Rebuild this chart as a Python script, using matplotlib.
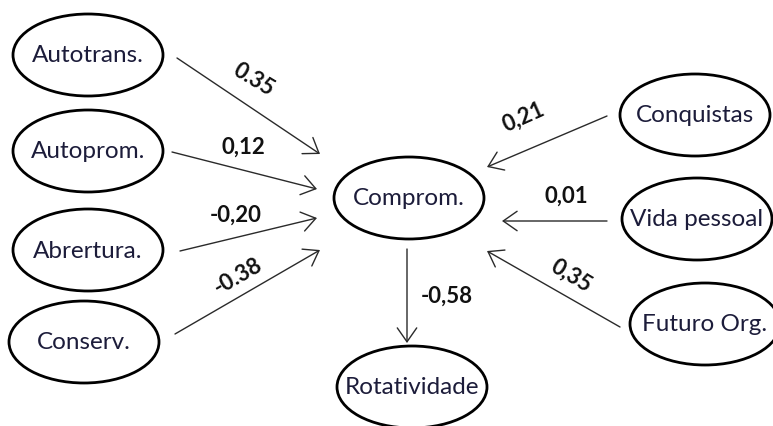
import matplotlib
matplotlib.use("Agg")
import matplotlib.pyplot as plt
from matplotlib.patches import Ellipse, FancyArrowPatch

# ---- data ----
left_nodes = ["Autotrans.", "Autoprom.", "Abrertura.", "Conserv."]
left_coefs = ["0.35", "0,12", "-0,20", "-0.38"]
right_nodes = ["Conquistas", "Vida pessoal", "Futuro Org."]
right_coefs = ["0,21", "0,01", "0,35"]
mediator = "Comprom."
outcome = "Rotatividade"
outcome_coef = "-0,58"

# ---- layout (pixel coordinates, y downwards) ----
W, H = 773, 427
left_centers = [(88, 56), (88, 152), (88, 251), (84, 343)]
right_centers = [(695, 116), (697, 220), (705, 325)]
med_center = (409, 199)
out_center = (412, 388)
ell_w, ell_h = 150, 82

left_arrows = [((177, 59), (320, 155)), ((172, 153), (317, 190)),
               ((180, 252), (317, 219)), ((175, 335), (320, 251))]
right_arrows = [((607, 117), (487, 168)), ((607, 222), (502, 222)),
                ((620, 328), (487, 252))]
down_arrow = ((407, 250), (407, 344))

left_lab = [((254, 80), -31), ((243, 147), 0), ((236, 215), 0), ((238, 276), 30)]
right_lab = [((523, 117), 24), ((566, 196), 0), ((571, 276), -31)]
down_lab = ((447, 296), 0)

FONT = "Lato"
TXT = "#1c1c3a"

fig = plt.figure(figsize=(W / 100, H / 100), dpi=100)
ax = fig.add_axes([0, 0, 1, 1])
ax.set_xlim(0, W)
ax.set_ylim(H, 0)
ax.axis("off")


def node(c, name, w=ell_w, h=ell_h):
    ax.add_patch(Ellipse(c, w, h, facecolor="white", edgecolor="black", lw=2.0, zorder=2))
    ax.text(c[0], c[1], name, ha="center", va="center", fontsize=17.5,
            family=FONT, color=TXT, zorder=3)


def arrow(p0, p1):
    ax.add_patch(FancyArrowPatch(p0, p1, arrowstyle="->,head_length=10,head_width=7",
                                 mutation_scale=1, lw=1.0, color="#2a2a2a",
                                 shrinkA=0, shrinkB=0, zorder=1))


def label(pos, rot, s):
    ax.text(pos[0], pos[1], s, ha="center", va="center", rotation=rot,
            rotation_mode="anchor", fontsize=16, fontweight="bold",
            family=FONT, color="#111111", zorder=4)


for c, n in zip(left_centers, left_nodes):
    node(c, n)
for c, n in zip(right_centers, right_nodes):
    node(c, n)
node(med_center, mediator)
node(out_center, outcome)

for (p0, p1), (pos, rot), s in zip(left_arrows, left_lab, left_coefs):
    arrow(p0, p1)
    label(pos, rot, s)
for (p0, p1), (pos, rot), s in zip(right_arrows, right_lab, right_coefs):
    arrow(p0, p1)
    label(pos, rot, s)
arrow(*down_arrow)
label(down_lab[0], down_lab[1], outcome_coef)

fig.savefig("out.png", dpi=100)
